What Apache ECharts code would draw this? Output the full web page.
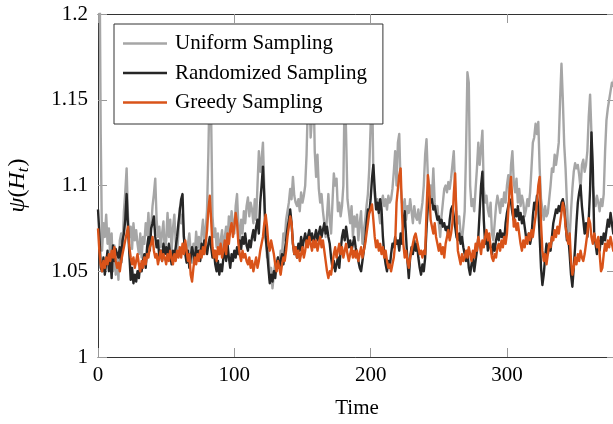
<!DOCTYPE html>
<html><head><meta charset="utf-8">
<script src="https://cdn.jsdelivr.net/npm/echarts@6/dist/echarts.min.js"></script>
<style>html,body{margin:0;padding:0;background:#fff}#c{width:613px;height:424px}</style>
</head><body><div id="c"></div>
<script>
const seriesNames = ['Uniform Sampling', 'Randomized Sampling', 'Greedy Sampling'];
const xTicks = [0, 100, 200, 300];
const yTicks = [1, 1.05, 1.1, 1.15, 1.2];

const uniform = [
1.300,1.250,1.130,1.062,1.078,1.070,1.083,1.066,1.075,1.058,
1.072,1.050,1.065,1.048,1.060,1.045,1.068,1.072,1.064,1.085,
1.096,1.110,1.082,1.070,1.076,1.063,1.078,1.068,1.074,1.066,
1.060,1.072,1.058,1.070,1.066,1.078,1.071,1.084,1.068,1.076,
1.088,1.095,1.104,1.080,1.070,1.076,1.064,1.072,1.079,1.061,
1.068,1.084,1.070,1.080,1.062,1.075,1.083,1.067,1.060,1.072,
1.087,1.078,1.083,1.070,1.064,1.058,1.066,1.072,1.062,1.055,
1.066,1.060,1.073,1.064,1.070,1.058,1.072,1.080,1.068,1.074,
1.086,1.120,1.165,1.140,1.082,1.070,1.075,1.064,1.072,1.060,
1.068,1.074,1.062,1.070,1.076,1.066,1.082,1.074,1.085,1.078,
1.072,1.088,1.095,1.076,1.068,1.080,1.072,1.085,1.078,1.088,
1.093,1.082,1.090,1.086,1.078,1.092,1.080,1.100,1.120,1.108,
1.115,1.125,1.098,1.070,1.058,1.062,1.045,1.052,1.040,1.048,
1.055,1.050,1.058,1.052,1.062,1.060,1.072,1.068,1.080,1.085,
1.090,1.098,1.092,1.105,1.094,1.090,1.088,1.092,1.085,1.096,
1.090,1.094,1.100,1.118,1.150,1.160,1.128,1.140,1.165,1.120,
1.105,1.118,1.098,1.090,1.095,1.085,1.078,1.070,1.082,1.095,
1.080,1.072,1.090,1.107,1.100,1.104,1.085,1.090,1.082,1.088,
1.100,1.160,1.130,1.092,1.085,1.078,1.088,1.070,1.082,1.076,
1.083,1.068,1.078,1.085,1.066,1.074,1.080,1.088,1.095,1.110,
1.135,1.165,1.105,1.094,1.088,1.092,1.084,1.078,1.090,1.094,
1.088,1.092,1.086,1.094,1.090,1.092,1.098,1.108,1.120,1.100,
1.125,1.130,1.100,1.090,1.086,1.092,1.080,1.088,1.084,1.092,
1.085,1.078,1.088,1.082,1.080,1.086,1.078,1.084,1.090,1.100,
1.118,1.127,1.105,1.095,1.100,1.092,1.110,1.090,1.084,1.088,
1.078,1.070,1.082,1.090,1.098,1.100,1.096,1.102,1.098,1.104,
1.112,1.120,1.098,1.085,1.078,1.082,1.072,1.068,1.076,1.085,
1.120,1.166,1.160,1.100,1.088,1.092,1.085,1.098,1.110,1.125,
1.112,1.122,1.132,1.098,1.090,1.094,1.086,1.082,1.090,1.072,
1.068,1.078,1.088,1.094,1.090,1.084,1.092,1.088,1.096,1.090,
1.100,1.106,1.095,1.112,1.120,1.102,1.096,1.104,1.090,1.098,
1.088,1.094,1.090,1.082,1.086,1.092,1.088,1.096,1.110,1.125,
1.128,1.136,1.130,1.137,1.110,1.092,1.086,1.080,1.088,1.082,
1.084,1.092,1.100,1.110,1.108,1.118,1.112,1.118,1.125,1.150,
1.171,1.150,1.124,1.110,1.090,1.072,1.070,1.085,1.098,1.108,
1.113,1.110,1.112,1.106,1.098,1.112,1.115,1.108,1.112,1.120,
1.140,1.153,1.130,1.100,1.092,1.088,1.094,1.090,1.085,1.092,
1.088,1.095,1.120,1.138,1.145,1.150,1.155,1.160,1.158,1.165
];

const randomized = [
1.086,1.072,1.052,1.050,1.058,1.048,1.055,1.062,1.050,1.058,
1.046,1.065,1.056,1.063,1.060,1.058,1.064,1.055,1.068,1.072,
1.080,1.095,1.076,1.060,1.045,1.052,1.043,1.048,1.044,1.050,
1.046,1.054,1.050,1.056,1.060,1.052,1.064,1.070,1.062,1.075,
1.078,1.082,1.070,1.064,1.068,1.058,1.062,1.056,1.066,1.060,
1.064,1.058,1.066,1.060,1.054,1.062,1.058,1.064,1.070,1.078,
1.085,1.092,1.095,1.070,1.060,1.055,1.062,1.052,1.058,1.064,
1.060,1.055,1.064,1.058,1.062,1.056,1.066,1.060,1.068,1.064,
1.060,1.066,1.070,1.064,1.058,1.062,1.054,1.050,1.056,1.048,
1.054,1.050,1.058,1.062,1.056,1.066,1.058,1.052,1.060,1.056,
1.062,1.058,1.064,1.060,1.068,1.063,1.070,1.066,1.072,1.065,
1.062,1.068,1.064,1.070,1.074,1.068,1.076,1.080,1.072,1.090,
1.100,1.111,1.092,1.070,1.062,1.052,1.043,1.048,1.044,1.050,
1.046,1.054,1.058,1.052,1.056,1.060,1.054,1.062,1.068,1.075,
1.080,1.086,1.078,1.066,1.060,1.064,1.058,1.066,1.062,1.070,
1.064,1.068,1.072,1.066,1.070,1.074,1.068,1.072,1.066,1.070,
1.074,1.068,1.072,1.076,1.070,1.074,1.078,1.072,1.076,1.070,
1.066,1.058,1.052,1.056,1.050,1.054,1.058,1.052,1.062,1.070,
1.074,1.068,1.076,1.070,1.064,1.068,1.062,1.066,1.070,1.064,
1.060,1.056,1.052,1.050,1.056,1.062,1.068,1.078,1.086,1.084,
1.092,1.104,1.112,1.098,1.086,1.090,1.084,1.092,1.086,1.070,
1.060,1.054,1.050,1.056,1.052,1.060,1.066,1.064,1.070,1.066,
1.068,1.062,1.072,1.066,1.078,1.085,1.070,1.056,1.046,1.058,
1.064,1.060,1.068,1.062,1.066,1.058,1.052,1.048,1.054,1.050,
1.058,1.075,1.088,1.094,1.090,1.092,1.086,1.088,1.084,1.080,
1.082,1.078,1.080,1.076,1.078,1.074,1.076,1.070,1.080,1.086,
1.088,1.082,1.076,1.070,1.068,1.072,1.066,1.070,1.064,1.060,
1.056,1.062,1.052,1.048,1.054,1.058,1.050,1.056,1.062,1.070,
1.085,1.100,1.108,1.080,1.066,1.072,1.062,1.068,1.064,1.060,
1.066,1.062,1.068,1.072,1.068,1.074,1.070,1.072,1.068,1.078,
1.084,1.088,1.092,1.090,1.084,1.080,1.086,1.082,1.088,1.080,
1.084,1.078,1.082,1.076,1.070,1.068,1.072,1.066,1.070,1.082,
1.090,1.086,1.094,1.088,1.070,1.052,1.042,1.048,1.058,1.066,
1.060,1.066,1.062,1.070,1.078,1.082,1.086,1.084,1.088,1.085,
1.090,1.092,1.088,1.078,1.068,1.070,1.060,1.048,1.041,1.052,
1.064,1.078,1.090,1.096,1.100,1.088,1.080,1.072,1.078,1.070,
1.080,1.098,1.131,1.110,1.072,1.066,1.060,1.068,1.062,1.070,
1.066,1.072,1.068,1.074,1.080,1.076,1.084,1.078,1.072,1.076
];

const greedy = [
1.075,1.062,1.054,1.050,1.056,1.052,1.058,1.054,1.060,1.056,
1.062,1.058,1.064,1.056,1.052,1.055,1.050,1.056,1.060,1.064,
1.068,1.072,1.076,1.064,1.058,1.054,1.058,1.052,1.056,1.060,
1.054,1.050,1.056,1.052,1.058,1.054,1.060,1.058,1.064,1.066,
1.070,1.062,1.058,1.060,1.054,1.058,1.062,1.056,1.060,1.058,
1.054,1.060,1.056,1.062,1.058,1.054,1.060,1.056,1.062,1.058,
1.064,1.058,1.066,1.060,1.068,1.062,1.056,1.060,1.048,1.044,
1.052,1.058,1.054,1.060,1.056,1.062,1.058,1.064,1.060,1.066,
1.074,1.086,1.094,1.080,1.064,1.058,1.062,1.056,1.064,1.060,
1.066,1.058,1.062,1.068,1.060,1.072,1.066,1.074,1.078,1.070,
1.076,1.084,1.078,1.066,1.060,1.056,1.062,1.058,1.060,1.056,
1.054,1.058,1.052,1.056,1.050,1.054,1.058,1.052,1.056,1.062,
1.066,1.070,1.078,1.083,1.076,1.066,1.062,1.068,1.064,1.060,
1.054,1.050,1.056,1.052,1.048,1.054,1.058,1.056,1.062,1.070,
1.076,1.082,1.078,1.066,1.060,1.064,1.058,1.062,1.056,1.060,
1.064,1.058,1.062,1.068,1.064,1.070,1.066,1.062,1.068,1.064,
1.068,1.062,1.066,1.070,1.064,1.068,1.062,1.056,1.050,1.046,
1.050,1.048,1.054,1.060,1.064,1.058,1.062,1.066,1.060,1.064,
1.058,1.062,1.066,1.060,1.056,1.060,1.064,1.058,1.062,1.058,
1.062,1.056,1.060,1.064,1.058,1.062,1.066,1.072,1.078,1.084,
1.086,1.089,1.080,1.070,1.064,1.068,1.062,1.066,1.060,1.064,
1.058,1.062,1.056,1.052,1.054,1.050,1.054,1.058,1.066,1.090,
1.098,1.106,1.110,1.085,1.066,1.058,1.062,1.056,1.052,1.058,
1.062,1.066,1.070,1.072,1.068,1.064,1.060,1.062,1.058,1.062,
1.060,1.085,1.106,1.098,1.080,1.076,1.072,1.078,1.070,1.066,
1.062,1.066,1.060,1.064,1.058,1.066,1.070,1.074,1.068,1.072,
1.078,1.095,1.107,1.080,1.062,1.058,1.054,1.060,1.056,1.058,
1.062,1.058,1.064,1.060,1.056,1.062,1.058,1.066,1.062,1.070,
1.066,1.060,1.068,1.064,1.070,1.074,1.068,1.072,1.064,1.058,
1.056,1.060,1.058,1.064,1.066,1.062,1.068,1.064,1.070,1.066,
1.072,1.085,1.098,1.105,1.090,1.076,1.080,1.074,1.078,1.072,
1.066,1.062,1.068,1.064,1.070,1.066,1.072,1.068,1.074,1.070,
1.076,1.082,1.090,1.100,1.105,1.078,1.062,1.056,1.060,1.054,
1.060,1.066,1.064,1.070,1.068,1.074,1.070,1.076,1.072,1.078,
1.084,1.090,1.086,1.076,1.070,1.066,1.072,1.056,1.048,1.052,
1.058,1.054,1.060,1.056,1.062,1.058,1.056,1.060,1.066,1.072,
1.081,1.078,1.070,1.066,1.072,1.068,1.064,1.070,1.060,1.050,
1.052,1.060,1.066,1.062,1.068,1.064,1.070,1.066,1.062,1.068
];

const colors = ['#a6a6a6', '#262626', '#d95319'];
const FONT = '"Liberation Serif", "DejaVu Serif", serif';
const pairs = arr => arr.map((v, i) => [i, v]);

const chart = echarts.init(document.getElementById('c'), null, {renderer: 'canvas'});
const axisCommonX = {
  type: 'value', min: 0, max: 380, interval: 100,
  splitLine: {show: false},
  axisLine: {show: true, onZero: false, lineStyle: {color: '#333', width: 1}},
  axisTick: {show: true, inside: true, length: 9, lineStyle: {color: '#999', width: 1}}
};
const axisCommonY = {
  type: 'value', min: 1, max: 1.2, interval: 0.05,
  splitLine: {show: false},
  axisLine: {show: true, onZero: false, lineStyle: {color: '#333', width: 1}},
  axisTick: {show: true, inside: true, length: 9, lineStyle: {color: '#999', width: 1}}
};
chart.setOption({
  animation: false,
  backgroundColor: '#fff',
  textStyle: {fontFamily: FONT},
  grid: {left: 98, top: 14, right: -3, bottom: 67, containLabel: false, outerBoundsMode: 'none'},
  legend: {
    data: seriesNames,
    orient: 'vertical', left: 114, top: 24,
    padding: [9, 16, 11, 9], itemGap: 8.5,
    itemWidth: 44, itemHeight: 2.6, icon: 'rect',
    backgroundColor: '#fff', borderColor: '#333', borderWidth: 1,
    textStyle: {fontFamily: FONT, fontSize: 21, color: '#000', lineHeight: 20, padding: [0, 0, 0, 3]}
  },
  xAxis: [
    Object.assign({}, axisCommonX, {
      position: 'bottom',
      name: 'Time', nameLocation: 'middle', nameGap: 41,
      nameTextStyle: {fontFamily: FONT, fontSize: 21, color: '#000'},
      axisLabel: {show: true, showMaxLabel: false, margin: 8, fontFamily: FONT, fontSize: 21, color: '#000',
        formatter: v => (xTicks.indexOf(v) >= 0 ? String(v) : '')}
    }),
    Object.assign({}, axisCommonX, {position: 'top', axisLabel: {show: false}})
  ],
  yAxis: [
    Object.assign({}, axisCommonY, {
      position: 'left',
      name: '{i|ψ}{n|(}{i|H}{s|t}{n|)}', nameLocation: 'middle', nameGap: 66, nameRotate: 90,
      nameTextStyle: {
        fontFamily: FONT, fontSize: 24, color: '#000',
        rich: {
          i: {fontFamily: FONT, fontSize: 24, fontStyle: 'italic', color: '#000', lineHeight: 28, verticalAlign: 'middle'},
          n: {fontFamily: FONT, fontSize: 24, color: '#000', lineHeight: 28, verticalAlign: 'middle'},
          s: {fontFamily: FONT, fontSize: 17, fontStyle: 'italic', color: '#000', lineHeight: 28, verticalAlign: 'bottom', padding: [0, 1, 0, 0]}
        }
      },
      axisLabel: {show: true, margin: 10, fontFamily: FONT, fontSize: 21, color: '#000',
        formatter: v => { const k = yTicks.find(t => Math.abs(t - v) < 1e-9); return k === undefined ? '' : String(k); }}
    }),
    Object.assign({}, axisCommonY, {position: 'right', axisLabel: {show: false}})
  ],
  series: [uniform, randomized, greedy].map((arr, k) => ({
    name: seriesNames[k], type: 'line', xAxisIndex: 0, yAxisIndex: 0,
    data: pairs(arr), showSymbol: false, symbol: 'none', clip: true,
    color: colors[k],
    lineStyle: {color: colors[k], width: 2.4, join: 'round'},
    z: 2 + k
  }))
});
</script></body></html>
